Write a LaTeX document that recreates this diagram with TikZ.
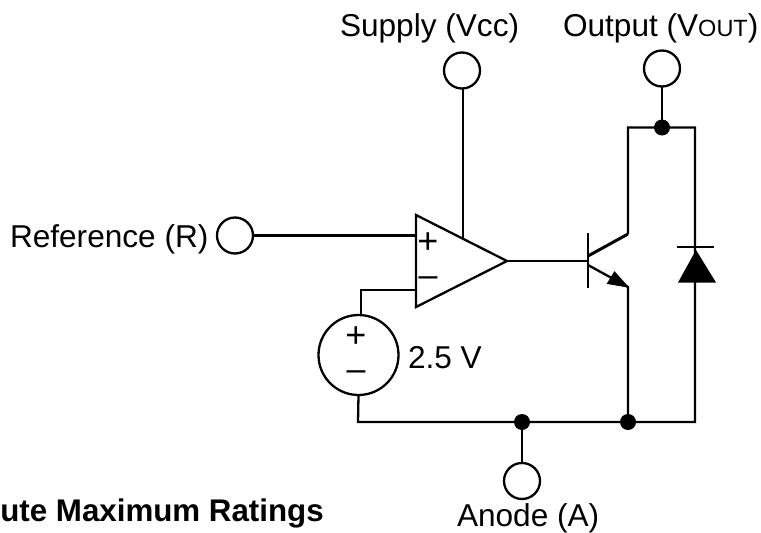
\documentclass[tikz,border=0pt]{standalone}
\usepackage{fontspec}
\setmainfont{Liberation Sans}
\newcommand{\lab}{\fontsize{31.6}{32}\selectfont}
\newcommand{\boldlab}{\fontsize{31.3}{32}\selectfont\bfseries}
\newcommand{\smalllab}{\fontsize{23.5}{23.5}\selectfont}
\newcommand{\plusfont}{\fontsize{36}{36}\selectfont}
\newcommand{\minusfont}{\fontsize{34}{34}\selectfont}
\tikzset{
  wire/.style={draw=black,line width=2.3pt},
  thickwire/.style={draw=black,line width=3pt},
  terminal/.style={circle,draw=black,line width=2.3pt,minimum size=36pt,inner sep=0pt,outer sep=0pt},
  source/.style={circle,draw=black,line width=2.3pt,minimum size=80pt,inner sep=0pt,outer sep=0pt},
  joint/.style={circle,fill=black,minimum size=16pt,inner sep=0pt,outer sep=0pt},
  lbl/.style={anchor=base west,inner sep=0pt,outer sep=0pt,font=\lab},
  plussign/.style={anchor=center,inner sep=0pt,outer sep=0pt,font=\plusfont},
  minussign/.style={anchor=center,inner sep=0pt,outer sep=0pt,font=\minusfont},
}
\begin{document}
\begin{tikzpicture}[x=1pt,y=-1pt]
\useasboundingbox (0,0) rectangle (761,533);
\clip (0,0) rectangle (761,533);
% terminals
\node[terminal] (vcc) at (462,70.5) {};
\node[terminal] (vout) at (662,68.5) {};
\node[terminal] (ref) at (235,235.5) {};
\node[terminal] (anode) at (522,481) {};
\node[source] (src) at (358.5,355) {};
% op amp
\coordinate (oa1) at (416,215);
\coordinate (oa2) at (416,307);
\coordinate (oatip) at (507,261);
\coordinate (oaplus) at (416,234);
\coordinate (oaminus) at (416,290);
\coordinate (oasup) at (463,239);
\draw[wire,line join=miter] (oa1) -- (oatip) -- (oa2) -- cycle;
% junctions
\coordinate (jc) at (662,127.5);
\coordinate (tl) at (628,127.5);
\coordinate (tr) at (695,127.5);
\coordinate (bl) at (358,422);
\coordinate (br) at (695,422);
\coordinate (ja) at (522,422);
\coordinate (je) at (628,422);
\coordinate (base) at (588,261);
\coordinate (bart) at (588,233);
\coordinate (barb) at (588,288);
\coordinate (cin) at (588,256);
\coordinate (cout) at (628,234);
\coordinate (ein) at (588,265);
\coordinate (eout) at (628,287);
\coordinate (srcup) at (361,290);
% connectors
\draw[wire] (ref.east) -- (ref.east -| oa1);
\draw[wire] (vcc.south -| oasup) -- (oasup);
\draw[wire] (oaminus) -- (srcup) -- (srcup |- src.north);
\draw[wire] (src.south) -- (bl) -- (br) -- (tr) -- (tl) -- (cout);
\draw[wire] (vout.south) -- (jc);
\draw[wire] (oatip) -- (base);
\draw[wire] (bart) -- (barb);
\draw[thickwire] (cin) -- (cout);
\draw[wire] (ein) -- (eout) -- (je);
\filldraw[line width=1pt,line join=miter] (eout) -- (607.5,283.5) -- (614.5,272) -- cycle;
\draw[wire] (ja) -- (anode.north);
\node[joint] (d1) at (jc) {};
\node[joint] (d2) at (ja) {};
\node[joint] (d3) at (je) {};
% diode
\draw[wire] (677,247) -- (714,247);
\fill (696,250) -- (716,282.5) -- (678,282.5) -- cycle;
% labels
\node[lbl] (tvcc) at (340,36.5) {Supply (Vcc)};
\node[lbl] (tvout) at (563,36.5) {Output (V{\smalllab OUT})};
\node[lbl] (tref) at (10,247) {Reference (R)};
\node[lbl] (tv) at (408,368) {2.5 V};
\node[lbl] (tan) at (457,526) {Anode (A)};
\node[anchor=base east,inner sep=0pt,font=\boldlab] (tabs) at (324,521) {ute Maximum Ratings};
\node[plussign] (p1) at (428,243) {+};
\node[minussign] (m1) at (428,282) {–};
\node[plussign] (p2) at (356,337) {+};
\node[minussign] (m2) at (356,376) {–};
\end{tikzpicture}
\end{document}
